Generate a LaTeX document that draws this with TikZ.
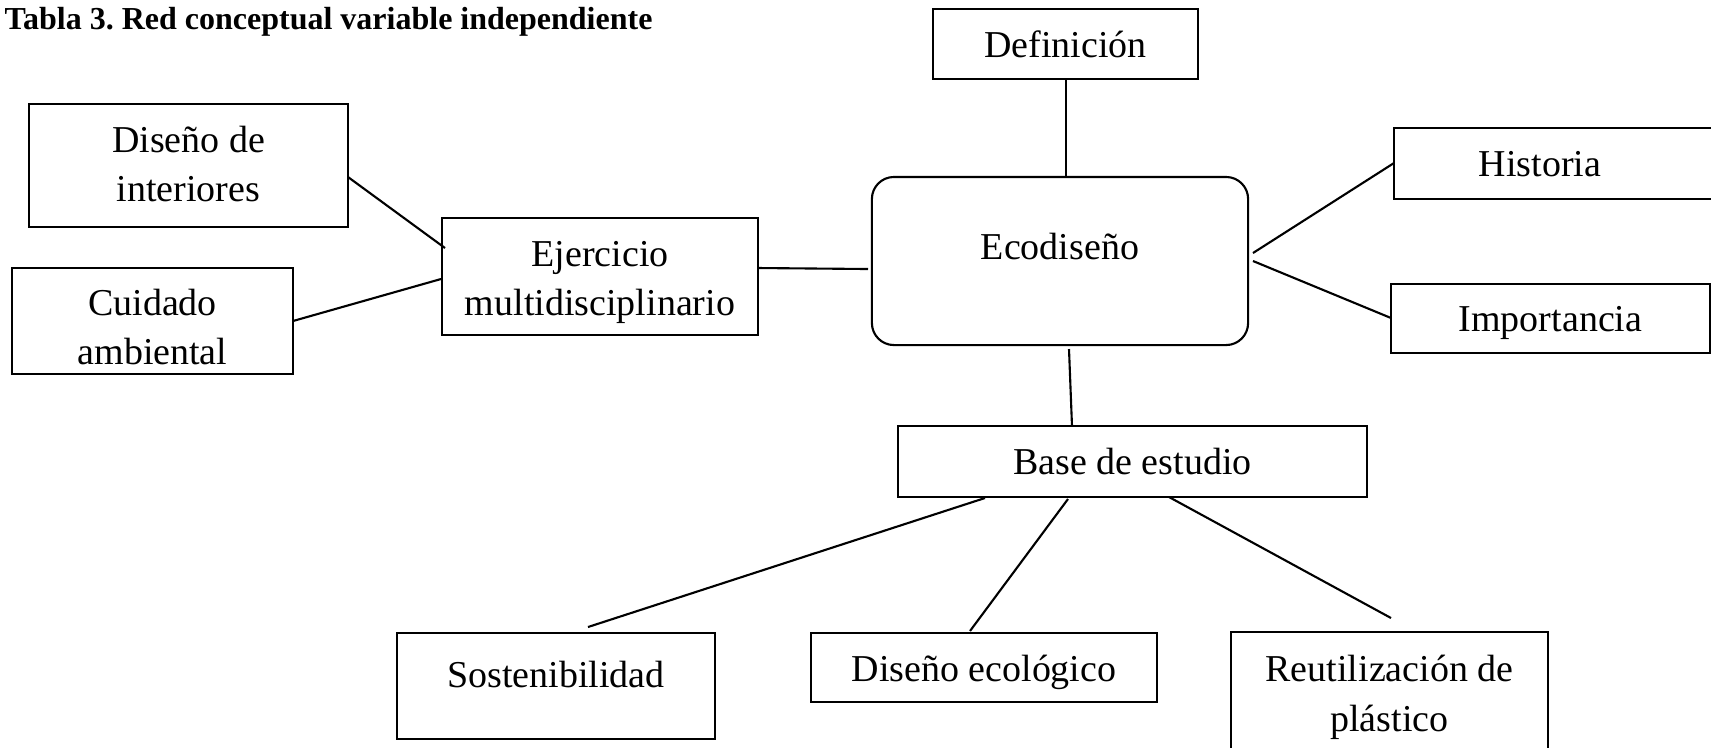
\documentclass[tikz,border=0pt]{standalone}
\usepackage{fontspec}
\setmainfont{Liberation Serif}
\newcommand\shiftt[2]{\raisebox{#1}[\height][\depth]{#2}}
\newcommand\twolines[3]{\raisebox{#1}[\height][\depth]{\begin{tabular}{@{}c@{}}#2\\#3\end{tabular}}}
\begin{document}
\begin{tikzpicture}[x=0.01cm,y=-0.01cm,
  box/.style={draw=black,line width=0.6pt,rectangle,inner sep=0pt,align=center,
    font=\fontsize{10.8}{14}\selectfont},
  link/.style={draw=black,line width=0.6pt}]
\useasboundingbox (0,0) rectangle (1711,747);
\clip (0,0) rectangle (1711,747);
\node[anchor=base west,font=\bfseries\fontsize{9.1}{11}\selectfont,inner sep=0pt] (title) at (4,29.5) {\frenchspacing Tabla 3. Red conceptual variable independiente};

\node[box,minimum width=3.19cm,minimum height=1.23cm] (dis) at (188.5,165.5) {\twolines{-0.5pt}{Diseño de}{interiores}};
\node[box,minimum width=2.81cm,minimum height=1.06cm] (cui) at (152.5,321) {\twolines{-2.6pt}{Cuidado}{ambiental}};
\node[box,minimum width=3.16cm,minimum height=1.17cm] (eje) at (600,276.5) {\twolines{-1.4pt}{Ejercicio}{multidisciplinario}};
\node[box,minimum width=2.65cm,minimum height=0.70cm] (def) at (1065.5,44) {\shiftt{-0.2pt}{Definición}};
\node[box,rounded corners=0.22cm,minimum width=3.76cm,minimum height=1.68cm] (eco) at (1060,261) {\shiftt{4pt}{Ecodiseño}};
\node[box,minimum width=3.26cm,minimum height=0.71cm] (his) at (1557,163.5) {\hspace*{-0.34cm}\shiftt{-0.2pt}{Historia}};
\node[box,minimum width=3.19cm,minimum height=0.69cm] (imp) at (1550.5,318.3) {\shiftt{-1.4pt}{Importancia}};
\node[box,minimum width=4.69cm,minimum height=0.71cm] (base) at (1132.5,461.5) {\shiftt{0pt}{Base de estudio}};
\node[box,minimum width=3.18cm,minimum height=1.06cm] (sos) at (556,686) {\shiftt{3.4pt}{Sostenibilidad}};
\node[box,minimum width=3.46cm,minimum height=0.69cm] (dise) at (984,667.2) {\shiftt{-1.5pt}{Diseño ecológico}};
\node[box,minimum width=3.17cm,minimum height=1.22cm] (reu) at (1389.5,693) {\twolines{-1pt}{Reutilización de}{plástico}};

% connector end points
\coordinate (dis-e) at (348,177);
\coordinate (eje-nw) at (445,248);
\coordinate (cui-e) at (293,321);
\coordinate (eje-w) at (441,279);
\coordinate (eje-e) at (758,268);
\coordinate (eco-w) at (868,269);
\coordinate (def-s) at (1066,79);
\coordinate (eco-n) at (1066,176);
\coordinate (eco-e1) at (1253,253);
\coordinate (his-w) at (1394,163);
\coordinate (eco-e2) at (1253,261);
\coordinate (imp-w) at (1391,318);
\coordinate (eco-s) at (1069,349);
\coordinate (base-n) at (1072,426);
\coordinate (base-s1) at (985,498);
\coordinate (sos-n) at (588,627);
\coordinate (base-s2) at (1068,499);
\coordinate (dise-n) at (970,631);
\coordinate (base-s3) at (1169,497);
\coordinate (reu-n) at (1391,618);

\draw[link] (dis-e) -- (eje-nw);
\draw[link] (cui-e) -- (eje-w);
\draw[link] (eje-e) -- (eco-w);
\draw[link] (def-s) -- (eco-n);
\draw[link] (eco-e1) -- (his-w);
\draw[link] (eco-e2) -- (imp-w);
\draw[link] (eco-s) -- (base-n);
\draw[link] (base-s1) -- (sos-n);
\draw[link] (base-s2) -- (dise-n);
\draw[link] (base-s3) -- (reu-n);
\end{tikzpicture}
\end{document}
